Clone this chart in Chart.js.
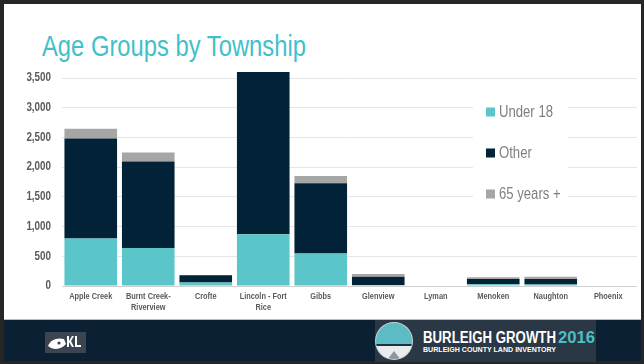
<!DOCTYPE html>
<html>
<head>
<meta charset="utf-8">
<script src="https://cdn.jsdelivr.net/npm/chart.js@4.4.1/dist/chart.umd.min.js"></script>
<style>
  html, body { margin: 0; padding: 0; }
  body { width: 644px; height: 364px; background: #262626; position: relative; overflow: hidden; }
  .slide { position: absolute; left: 4px; top: 4px; width: 637px; height: 315px; background: #fff; }
  .rule { position: absolute; left: 4px; top: 319px; width: 637px; height: 1px; background: #bdbdbd; }
  .band { position: absolute; left: 4px; top: 320px; width: 637px; height: 41px; background: #0c2033; }
  .title { position: absolute; left: 42px; top: 32px; margin: 0; font: 400 29px/29px "Liberation Sans", Arial, sans-serif; color: #41bfcb; white-space: nowrap; transform: scaleX(0.82); transform-origin: 0 0; }
  #chart { position: absolute; left: 0; top: 0; }
  .logo-left { position: absolute; left: 45px; top: 332px; }
  .logo-right { position: absolute; left: 375px; top: 320px; }
</style>
</head>
<body>
<div class="slide"></div>
<div class="rule"></div>
<div class="band"></div>
<h1 class="title">Age Groups by Township</h1>
<canvas id="chart" width="644" height="320"></canvas>

<svg class="logo-left" width="41" height="21" viewBox="0 0 41 21">
  <rect width="41" height="21" fill="#3a4551"/>
  <path d="M3 14 C5 8 12 5 19 7 L21 12 C17 17 9 19 3 14 Z" fill="#fff"/>
  <circle cx="14" cy="11" r="1.6" fill="#3a4551"/>
  <path d="M22 4 h2 v5 l3 -5 h2 l-3 5 3 6 h-2 l-3 -5 v5 h-2 Z" fill="#fff"/>
  <path d="M30 4 h2 v9 h4 v2 h-6 Z" fill="#fff"/>
</svg>

<svg class="logo-right" width="221" height="42" viewBox="0 0 221 42">
  <defs>
    <clipPath id="disc"><circle cx="19" cy="21" r="18"/></clipPath>
  </defs>
  <rect width="221" height="42" fill="#2a3845"/>
  <circle cx="19" cy="21" r="19" fill="#c9d3d7"/>
  <g clip-path="url(#disc)">
    <rect x="0" y="0" width="40" height="24" fill="#5bbcc3"/>
    <rect x="0" y="24" width="40" height="2" fill="#1d3140"/>
    <rect x="0" y="26" width="40" height="18" fill="#e8eced"/>
    <path d="M12 40 L19 31 L26 40 Z" fill="#8b979d"/>
  </g>
  <text x="48" y="23" font-family="Liberation Sans, sans-serif" font-weight="700" font-size="16" fill="#ffffff" textLength="133" lengthAdjust="spacingAndGlyphs">BURLEIGH GROWTH</text>
  <text x="183" y="23" font-family="Liberation Sans, sans-serif" font-weight="700" font-size="16" fill="#4bbfc6" textLength="37" lengthAdjust="spacingAndGlyphs">2016</text>
  <text x="48" y="31.5" font-family="Liberation Sans, sans-serif" font-weight="700" font-size="6.5" fill="#ffffff" textLength="133" lengthAdjust="spacingAndGlyphs">BURLEIGH COUNTY LAND INVENTORY</text>
</svg>

<script>
// townships along the x axis (two-line names as arrays)
const townships = [
  'Apple Creek', ['Burnt Creek-', 'Riverview'], 'Crofte', ['Lincoln - Fort', 'Rice'],
  'Gibbs', 'Glenview', 'Lyman', 'Menoken', 'Naughton', 'Phoenix'
];
// population by age group
const under18 = [800, 640, 60, 870, 545, 15, 0, 28, 25, 0];
const other = [1680, 1455, 120, 2730, 1185, 140, 0, 90, 93, 8];
const over65 = [165, 150, 5, 0, 120, 45, 0, 29, 39, 0];

const seriesNames = ['Under 18', 'Other', '65 years +'];
const seriesColors = ['#5bc6c9', '#022337', '#a6a6a6'];

const sans = '"Liberation Sans", Arial, sans-serif';
const SQUEEZE = 0.82; // no narrow face installed, so squeeze text horizontally

function narrowText(ctx, text, x, y, align) {
  ctx.save();
  ctx.translate(x, y);
  ctx.scale(SQUEEZE, 1);
  ctx.textAlign = align;
  ctx.fillText(text, 0, 0);
  ctx.restore();
}

// axis labels drawn condensed at the scales' own tick positions
const narrowTicks = {
  id: 'narrowTicks',
  afterDraw(chart) {
    const ctx = chart.ctx;
    const xs = chart.scales.x, ys = chart.scales.y;
    ctx.save();
    ctx.fillStyle = '#5a5a5a';
    ctx.textBaseline = 'middle';
    ctx.font = 'bold 12px ' + sans;
    ys.ticks.forEach((t, i) => {
      narrowText(ctx, t.label, chart.chartArea.left - 11, ys.getPixelForTick(i), 'right');
    });
    ctx.font = 'bold 9px ' + sans;
    xs.ticks.forEach((t, i) => {
      const lines = [].concat(chart.data.labels[t.value]);
      lines.forEach((ln, j) => {
        narrowText(ctx, ln, xs.getPixelForTick(i), chart.chartArea.bottom + 11 + j * 10.3, 'center');
      });
    });
    ctx.restore();
  }
};

// legend sits inside the plot, on a white patch over the gridlines
const insideLegend = {
  id: 'insideLegend',
  afterDraw(chart) {
    const ctx = chart.ctx;
    ctx.save();
    ctx.fillStyle = '#ffffff';
    ctx.fillRect(473, 100, 95, 105);
    ctx.font = '16px ' + sans;
    ctx.textBaseline = 'middle';
    chart.data.datasets.forEach((ds, i) => {
      const y = 112 + i * 41;
      ctx.fillStyle = ds.backgroundColor;
      ctx.fillRect(486, y - 4.5, 9, 9);
      ctx.fillStyle = '#7f7f7f';
      narrowText(ctx, ds.label, 499, y + 0.5, 'left');
    });
    ctx.restore();
  }
};

const values = [under18, other, over65];
const clipTop = { left: 0, top: 6, right: 0, bottom: 0 };

new Chart(document.getElementById('chart'), {
  type: 'bar',
  plugins: [narrowTicks, insideLegend],
  data: {
    labels: townships,
    datasets: values.map((v, i) => ({
      label: seriesNames[i],
      data: v,
      backgroundColor: seriesColors[i],
      borderWidth: 0,
      clip: clipTop,
      categoryPercentage: 1,
      barPercentage: 0.915
    }))
  },
  options: {
    responsive: false,
    animation: false,
    layout: { padding: { top: 78, left: 0, right: 7, bottom: 0 } },
    plugins: {
      legend: { display: false },
      tooltip: { enabled: false },
      title: { display: false }
    },
    scales: {
      x: {
        stacked: true,
        grid: { display: false, drawTicks: false },
        border: { display: false },
        ticks: { color: 'rgba(0,0,0,0)', maxRotation: 0, autoSkip: false },
        afterFit: s => { s.height = 34; }
      },
      y: {
        stacked: true,
        min: 0,
        max: 3500,
        grid: {
          drawTicks: false,
          color: c => (c.tick && c.tick.value === 0 ? '#d0d0d0' : '#e6e6e6'),
          lineWidth: 1
        },
        border: { display: false },
        ticks: { stepSize: 500, color: 'rgba(0,0,0,0)' },
        afterFit: s => { s.width = 62; }
      }
    }
  }
});
</script>
</body>
</html>
